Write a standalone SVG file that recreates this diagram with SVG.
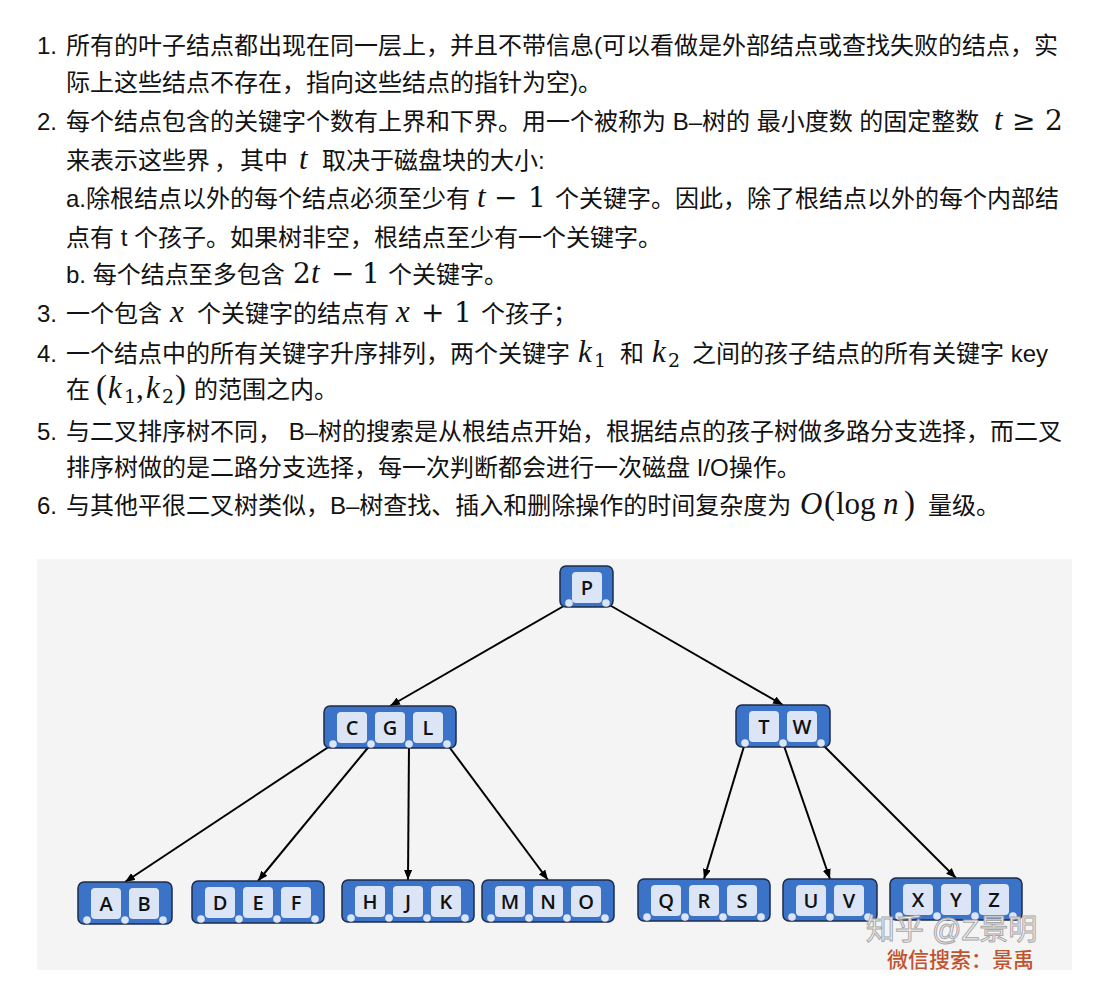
<svg xmlns="http://www.w3.org/2000/svg" width="1109" height="988" viewBox="0 0 1109 988">
<defs>
<style>
.t{font-family:"Liberation Sans","Noto Sans CJK SC",sans-serif;font-size:24px;fill:#121212}
.m{font-family:"Liberation Serif","DejaVu Serif",serif;font-size:31px;fill:#121212}
.mi{font-style:italic}
.op{font-family:"DejaVu Serif","Liberation Serif",serif;font-size:28px}
.sub{font-family:"DejaVu Serif","Liberation Serif",serif;font-size:19px}
.node{fill:#3b73c9;stroke:#1c2b48;stroke-width:1.5}
.key{fill:#dbe5f6}
.dot{fill:#dbe5f6}
.kt{font-family:"Open Sans","Liberation Sans",sans-serif;font-size:20px;font-weight:600;fill:#111;text-anchor:middle}
.edge{stroke:#000;stroke-width:2;fill:none;marker-end:url(#arr)}
</style>
<marker id="arr" markerUnits="userSpaceOnUse" markerWidth="10" markerHeight="8" refX="10" refY="4" orient="auto">
<path d="M0,0 L10,4 L0,8 z" fill="#000"/>
</marker>
</defs>
<rect width="1109" height="988" fill="#ffffff"/>

<g id="text">
<text class="t" x="37" y="54">1.</text>
<text class="t" x="66" y="54">所有的叶子结点都出现在同一层上，并且不带信息(可以看做是外部结点或查找失败的结点，实</text>
<text class="t" x="66" y="91">际上这些结点不存在，指向这些结点的指针为空)。</text>

<text class="t" x="37" y="130">2.</text>
<text class="t" x="66" y="130">每个结点包含的关键字个数有上界和下界。用一个被称为 B–树的 最小度数 的固定整数</text>
<text class="m" y="130"><tspan class="mi" x="994">t</tspan><tspan class="op" x="1012">≥</tspan><tspan class="op" x="1045">2</tspan></text>

<text class="t" x="66" y="169">来表示这些界</text>
<text class="t" x="214" y="169">，</text>
<text class="t" x="240" y="169">其中</text>
<text class="m mi" x="299" y="169">t</text>
<text class="t" x="322" y="169">取决于磁盘块的大小:</text>

<text class="t" x="66" y="207">a.除根结点以外的每个结点必须至少有</text>
<text class="m" y="207"><tspan class="mi" x="477">t</tspan><tspan class="op" x="494">−</tspan><tspan class="op" x="528">1</tspan></text>
<text class="t" x="555" y="207">个关键字。因此，除了根结点以外的每个内部结</text>
<text class="t" x="66" y="246">点有 t 个孩子。如果树非空，根结点至少有一个关键字。</text>

<text class="t" x="66" y="283">b. 每个结点至多包含</text>
<text class="m" y="283"><tspan class="op" x="293">2</tspan><tspan class="mi" x="311">t</tspan><tspan class="op" x="331">−</tspan><tspan class="op" x="362">1</tspan></text>
<text class="t" x="388" y="283">个关键字。</text>

<text class="t" x="37" y="322">3.</text>
<text class="t" x="66" y="322">一个包含</text>
<text class="m mi" x="170" y="322">x</text>
<text class="t" x="197" y="322">个关键字的结点有</text>
<text class="m" y="322"><tspan class="mi" x="396">x</tspan><tspan class="op" x="421">+</tspan><tspan class="op" x="454">1</tspan></text>
<text class="t" x="481" y="322">个孩子；</text>

<text class="t" x="37" y="362">4.</text>
<text class="t" x="66" y="362">一个结点中的所有关键字升序排列，两个关键字</text>
<text class="m" y="362"><tspan class="mi" x="578">k</tspan><tspan class="sub" x="594" dy="5">1</tspan></text>
<text class="t" x="620" y="362">和</text>
<text class="m" y="362"><tspan class="mi" x="652">k</tspan><tspan class="sub" x="668" dy="5">2</tspan></text>
<text class="t" x="692" y="362">之间的孩子结点的所有关键字 key</text>

<text class="t" x="66" y="398">在</text>
<text class="m" y="398"><tspan x="96" font-size="33">(</tspan><tspan class="mi" x="108">k</tspan><tspan class="sub" x="124" dy="5">1</tspan><tspan x="136" dy="-5">,</tspan><tspan class="mi" x="146">k</tspan><tspan class="sub" x="162" dy="5">2</tspan><tspan x="175" dy="-5" font-size="33">)</tspan></text>
<text class="t" x="194" y="398">的范围之内。</text>

<text class="t" x="37" y="440">5.</text>
<text class="t" x="66" y="440">与二叉排序树不同， B–树的搜索是从根结点开始，根据结点的孩子树做多路分支选择，而二叉</text>
<text class="t" x="66" y="476">排序树做的是二路分支选择，每一次判断都会进行一次磁盘 I/O操作。</text>

<text class="t" x="37" y="514">6.</text>
<text class="t" x="66" y="514">与其他平很二叉树类似，B–树查找、插入和删除操作的时间复杂度为</text>
<text class="m" y="514"><tspan class="mi" x="800">O</tspan><tspan x="824" font-size="33">(</tspan><tspan x="836">log</tspan><tspan class="mi" x="883">n</tspan><tspan x="904" font-size="33">)</tspan></text>
<text class="t" x="928" y="514">量级。</text>
</g>

<rect id="panel" x="37" y="559" width="1035" height="411" fill="#f4f4f4"/>

<g id="connectors">
<line class="edge" x1="569" y1="603" x2="390" y2="706"/>
<line class="edge" x1="606" y1="603" x2="783" y2="705"/>
<line class="edge" x1="333" y1="744" x2="125" y2="882"/>
<line class="edge" x1="371" y1="744" x2="258" y2="881"/>
<line class="edge" x1="409" y1="744" x2="408" y2="880"/>
<line class="edge" x1="447" y1="744" x2="548" y2="880"/>
<line class="edge" x1="745" y1="743" x2="704" y2="879"/>
<line class="edge" x1="783" y1="743" x2="830" y2="879"/>
<line class="edge" x1="821" y1="743" x2="956" y2="878"/>
</g>

<g id="node-P">
<rect class="node" x="560" y="566" width="53" height="41" rx="6"/>
<rect class="key" x="572" y="572" width="30" height="31" rx="4"/>
<circle class="dot" cx="569" cy="603" r="3.8"/><circle class="dot" cx="606" cy="603" r="3.8"/>
<text class="kt" x="587" y="594.5">P</text>
</g>

<g id="node-CGL">
<rect class="node" x="324" y="706" width="132" height="42" rx="6"/>
<rect class="key" x="337" y="712" width="30" height="31" rx="4"/>
<rect class="key" x="375" y="712" width="30" height="31" rx="4"/>
<rect class="key" x="413" y="712" width="30" height="31" rx="4"/>
<circle class="dot" cx="333" cy="744" r="3.8"/><circle class="dot" cx="371" cy="744" r="3.8"/><circle class="dot" cx="409" cy="744" r="3.8"/><circle class="dot" cx="447" cy="744" r="3.8"/>
<text class="kt" x="352" y="734.5">C</text><text class="kt" x="390" y="734.5">G</text><text class="kt" x="428" y="734.5">L</text>
</g>

<g id="node-TW">
<rect class="node" x="736" y="705" width="94" height="42" rx="6"/>
<rect class="key" x="749" y="711" width="30" height="31" rx="4"/>
<rect class="key" x="787" y="711" width="30" height="31" rx="4"/>
<circle class="dot" cx="745" cy="743" r="3.8"/><circle class="dot" cx="783" cy="743" r="3.8"/><circle class="dot" cx="821" cy="743" r="3.8"/>
<text class="kt" x="764" y="733.5">T</text><text class="kt" x="802" y="733.5">W</text>
</g>

<g id="node-AB">
<rect class="node" x="78" y="882" width="94" height="42" rx="6"/>
<rect class="key" x="91" y="888" width="30" height="31" rx="4"/>
<rect class="key" x="129" y="888" width="30" height="31" rx="4"/>
<circle class="dot" cx="87" cy="920" r="3.8"/><circle class="dot" cx="125" cy="920" r="3.8"/><circle class="dot" cx="163" cy="920" r="3.8"/>
<text class="kt" x="106" y="910.5">A</text><text class="kt" x="144" y="910.5">B</text>
</g>

<g id="node-DEF">
<rect class="node" x="192" y="881" width="132" height="42" rx="6"/>
<rect class="key" x="205" y="887" width="30" height="31" rx="4"/>
<rect class="key" x="243" y="887" width="30" height="31" rx="4"/>
<rect class="key" x="281" y="887" width="30" height="31" rx="4"/>
<circle class="dot" cx="201" cy="919" r="3.8"/><circle class="dot" cx="239" cy="919" r="3.8"/><circle class="dot" cx="277" cy="919" r="3.8"/><circle class="dot" cx="315" cy="919" r="3.8"/>
<text class="kt" x="220" y="909.5">D</text><text class="kt" x="258" y="909.5">E</text><text class="kt" x="296" y="909.5">F</text>
</g>

<g id="node-HJK">
<rect class="node" x="342" y="880" width="132" height="42" rx="6"/>
<rect class="key" x="355" y="886" width="30" height="31" rx="4"/>
<rect class="key" x="393" y="886" width="30" height="31" rx="4"/>
<rect class="key" x="431" y="886" width="30" height="31" rx="4"/>
<circle class="dot" cx="351" cy="918" r="3.8"/><circle class="dot" cx="389" cy="918" r="3.8"/><circle class="dot" cx="427" cy="918" r="3.8"/><circle class="dot" cx="465" cy="918" r="3.8"/>
<text class="kt" x="370" y="908.5">H</text><text class="kt" x="408" y="908.5">J</text><text class="kt" x="446" y="908.5">K</text>
</g>

<g id="node-MNO">
<rect class="node" x="482" y="880" width="132" height="42" rx="6"/>
<rect class="key" x="495" y="886" width="30" height="31" rx="4"/>
<rect class="key" x="533" y="886" width="30" height="31" rx="4"/>
<rect class="key" x="571" y="886" width="30" height="31" rx="4"/>
<circle class="dot" cx="491" cy="918" r="3.8"/><circle class="dot" cx="529" cy="918" r="3.8"/><circle class="dot" cx="567" cy="918" r="3.8"/><circle class="dot" cx="605" cy="918" r="3.8"/>
<text class="kt" x="510" y="908.5">M</text><text class="kt" x="548" y="908.5">N</text><text class="kt" x="586" y="908.5">O</text>
</g>

<g id="node-QRS">
<rect class="node" x="638" y="879" width="132" height="42" rx="6"/>
<rect class="key" x="651" y="885" width="30" height="31" rx="4"/>
<rect class="key" x="689" y="885" width="30" height="31" rx="4"/>
<rect class="key" x="727" y="885" width="30" height="31" rx="4"/>
<circle class="dot" cx="647" cy="917" r="3.8"/><circle class="dot" cx="685" cy="917" r="3.8"/><circle class="dot" cx="723" cy="917" r="3.8"/><circle class="dot" cx="761" cy="917" r="3.8"/>
<text class="kt" x="666" y="907.5">Q</text><text class="kt" x="704" y="907.5">R</text><text class="kt" x="742" y="907.5">S</text>
</g>

<g id="node-UV">
<rect class="node" x="783" y="879" width="94" height="42" rx="6"/>
<rect class="key" x="796" y="885" width="30" height="31" rx="4"/>
<rect class="key" x="834" y="885" width="30" height="31" rx="4"/>
<circle class="dot" cx="792" cy="917" r="3.8"/><circle class="dot" cx="830" cy="917" r="3.8"/><circle class="dot" cx="868" cy="917" r="3.8"/>
<text class="kt" x="811" y="907.5">U</text><text class="kt" x="849" y="907.5">V</text>
</g>

<g id="node-XYZ">
<rect class="node" x="890" y="878" width="132" height="42" rx="6"/>
<rect class="key" x="903" y="884" width="30" height="31" rx="4"/>
<rect class="key" x="941" y="884" width="30" height="31" rx="4"/>
<rect class="key" x="979" y="884" width="30" height="31" rx="4"/>
<circle class="dot" cx="899" cy="916" r="3.8"/><circle class="dot" cx="937" cy="916" r="3.8"/><circle class="dot" cx="975" cy="916" r="3.8"/><circle class="dot" cx="1013" cy="916" r="3.8"/>
<text class="kt" x="918" y="906.5">X</text><text class="kt" x="956" y="906.5">Y</text><text class="kt" x="994" y="906.5">Z</text>
</g>

<g id="watermark">
<text x="866" y="940" font-family="'Liberation Sans','Noto Sans CJK SC',sans-serif" font-size="29" fill="#f2f2f2" stroke="#a8a8a8" stroke-width="1">知乎 @Z景明</text>
<text x="887" y="967" font-family="'Liberation Sans','Noto Sans CJK SC',sans-serif" font-size="21" font-weight="500" fill="#c0532d">微信搜索：景禹</text>
</g>
</svg>
